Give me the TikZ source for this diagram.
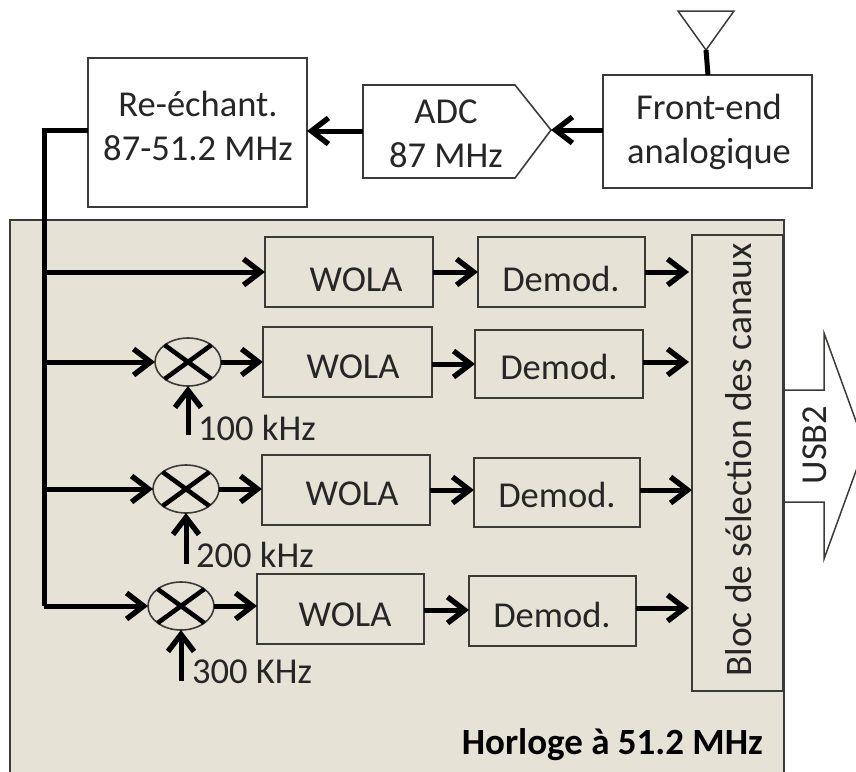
\documentclass[tikz,border=0pt]{standalone}
\usepackage{fontspec}
\setmainfont{Carlito}
\usetikzlibrary{arrows.meta,shapes.geometric,calc}
\definecolor{panel}{HTML}{E6E3D6}
\definecolor{edge}{HTML}{3A3A36}
\newcommand{\bx}[6]{\node[blockbox,minimum width=#3-#2,minimum height=#5-#4,#6] (#1) at ({(#2+#3)/2},{(#4+#5)/2}) {};}
\tikzset{
  x=1pt,y=-1pt,
  blockbox/.style={draw=edge,line width=1.6pt,inner sep=0pt,outer sep=0pt,align=center},
  lbl/.style={inner sep=0pt,text=black!85,font=\fontsize{36.5}{44}\selectfont,align=center},
  sig/.style={line width=5pt,draw=black,-{Straight Barb[length=17pt,width=26pt,line width=5.4pt]}},
  wire/.style={line width=5pt,draw=black},
  mixer/.style={ellipse,draw=edge,line width=1.6pt,minimum width=66pt,minimum height=48pt,inner sep=0pt,outer sep=0pt},
  cross/.style={line width=4.6pt,draw=black}
}
\begin{document}
\begin{tikzpicture}
\useasboundingbox (0,0) rectangle (856,771);
\clip (0,0) rectangle (856,771);
% panel
\node[draw=edge,line width=1.6pt,fill=panel,minimum width=774pt,minimum height=560pt,inner sep=0pt] (panel) at (397,500) {};
% top row
\bx{resample}{88}{307}{58}{207}{}
\node[lbl] (resampletxt) at (198,126) {Re-échant.\\87-51.2 MHz};
\bx{front}{603}{812}{75}{188}{}
\node[lbl] (fronttxt) at (709,132) {Front-end\\analogique};
\coordinate (adcw) at (363,131);
\draw[draw=edge,line width=1.6pt] (363,85) -- (515,85) -- (551,130) -- (515,178) -- (363,178) -- cycle;
\coordinate (adctip) at (551,130);
\node[lbl] (adctxt) at (446,134) {ADC\\87 MHz};
% antenna
\coordinate (anttip) at (706,50);
\draw[draw=edge,line width=1.5pt] (678,11) -- (734,11) -- (anttip) -- cycle;
\coordinate (fronttop) at (708,75);
\draw[line width=5pt] (anttip) -- (fronttop);
\draw[sig] (front.west |- 0,130) -- (adctip);
\draw[sig] (adcw) -- (resample.east |- 0,131);
% bus
\coordinate (buss) at (resample.west |- 0,130);
\coordinate (bus1) at (44,272);
\coordinate (bus2) at (44,362);
\coordinate (bus3) at (44,489);
\coordinate (bus4) at (44,606);
\draw[wire,line join=miter] (buss) -- (44,130) -- (bus4);
% channels
\bx{wa}{265}{433}{237}{307}{}\node[lbl] (wat) at (356,280) {WOLA};
\bx{da}{478}{645}{237}{307}{}\node[lbl] (dat) at (561,279) {Demod.};
\bx{wb}{263}{432}{327}{397}{}\node[lbl] (wbt) at (353,367) {WOLA};
\bx{db}{475}{643}{330}{398}{}\node[lbl] (dbt) at (559,367) {Demod.};
\bx{wc}{262}{430}{455}{525}{}\node[lbl] (wct) at (352,494) {WOLA};
\bx{dc}{474}{640}{458}{527}{}\node[lbl] (dct) at (557,495) {Demod.};
\bx{wd}{257}{424}{574}{644}{}\node[lbl] (wdt) at (345,615) {WOLA};
\bx{dd}{469}{636}{576}{646}{}\node[lbl] (ddt) at (552,615) {Demod.};
% selection
\bx{sel}{692}{783}{235}{691}{}
\node[lbl,rotate=90,font=\fontsize{37.5}{44}\selectfont] (seltxt) at (739,460) {Bloc de sélection des canaux};
% usb
\draw[draw=edge,line width=1.5pt] (784,390) -- (824,390) -- (824,333) -- (865,446) -- (824,559) -- (824,502) -- (784,502);
\node[lbl,rotate=90] (usb) at (815,445) {USB2};
% mixers
\node[mixer] (mb) at (188,362) {};
\node[mixer] (mc) at (186,489) {};
\node[mixer] (md) at (181,606) {};
\foreach \m in {mb,mc,md}{
  \draw[cross] (\m.north west) -- (\m.south east);
  \draw[cross] (\m.north east) -- (\m.south west);
}
% branch arrows
\draw[sig] (bus1) -- (wa.west |- bus1);
\draw[sig] (bus2) -- (mb.west);
\draw[sig] (bus3) -- (mc.west);
\draw[sig] (bus4) -- (md.west);
\draw[sig] (mb.east) -- (wb.west |- mb.east);
\draw[sig] (mc.east) -- (wc.west |- mc.east);
\draw[sig] (md.east) -- (wd.west |- md.east);
\draw[sig] (wa.east) -- (da.west);
\draw[sig] (wb.east |- 0,364) -- (db.west |- 0,364);
\draw[sig] (wc.east |- 0,490) -- (dc.west |- 0,490);
\draw[sig] (wd.east |- 0,610) -- (dd.west |- 0,610);
\draw[sig] (da.east |- 0,272) -- ([xshift=-3pt]sel.west |- 0,272);
\draw[sig] (db.east |- 0,362) -- ([xshift=-3pt]sel.west |- 0,362);
\draw[sig] (dc.east |- 0,490) -- (sel.west |- 0,490);
\draw[sig] (dd.east |- 0,608) -- ([xshift=-3pt]sel.west |- 0,608);
% LO
\coordinate (lob) at (188,435);
\coordinate (loc) at (186,564);
\coordinate (lod) at (181,681);
\draw[sig] (lob) -- (mb.south);
\draw[sig] (loc) -- (mc.south);
\draw[sig] (lod) -- (md.south);
\node[lbl,anchor=west] (lbb) at (198,428) {100 kHz};
\node[lbl,anchor=west] (lbc) at (196,555) {200 kHz};
\node[lbl,anchor=west] (lbd) at (192,672) {300 KHz};
\node[lbl,anchor=east,font=\fontsize{37}{42}\selectfont\bfseries,text=black] (clk) at (763,745) {Horloge à 51.2 MHz};
\end{tikzpicture}
\end{document}
